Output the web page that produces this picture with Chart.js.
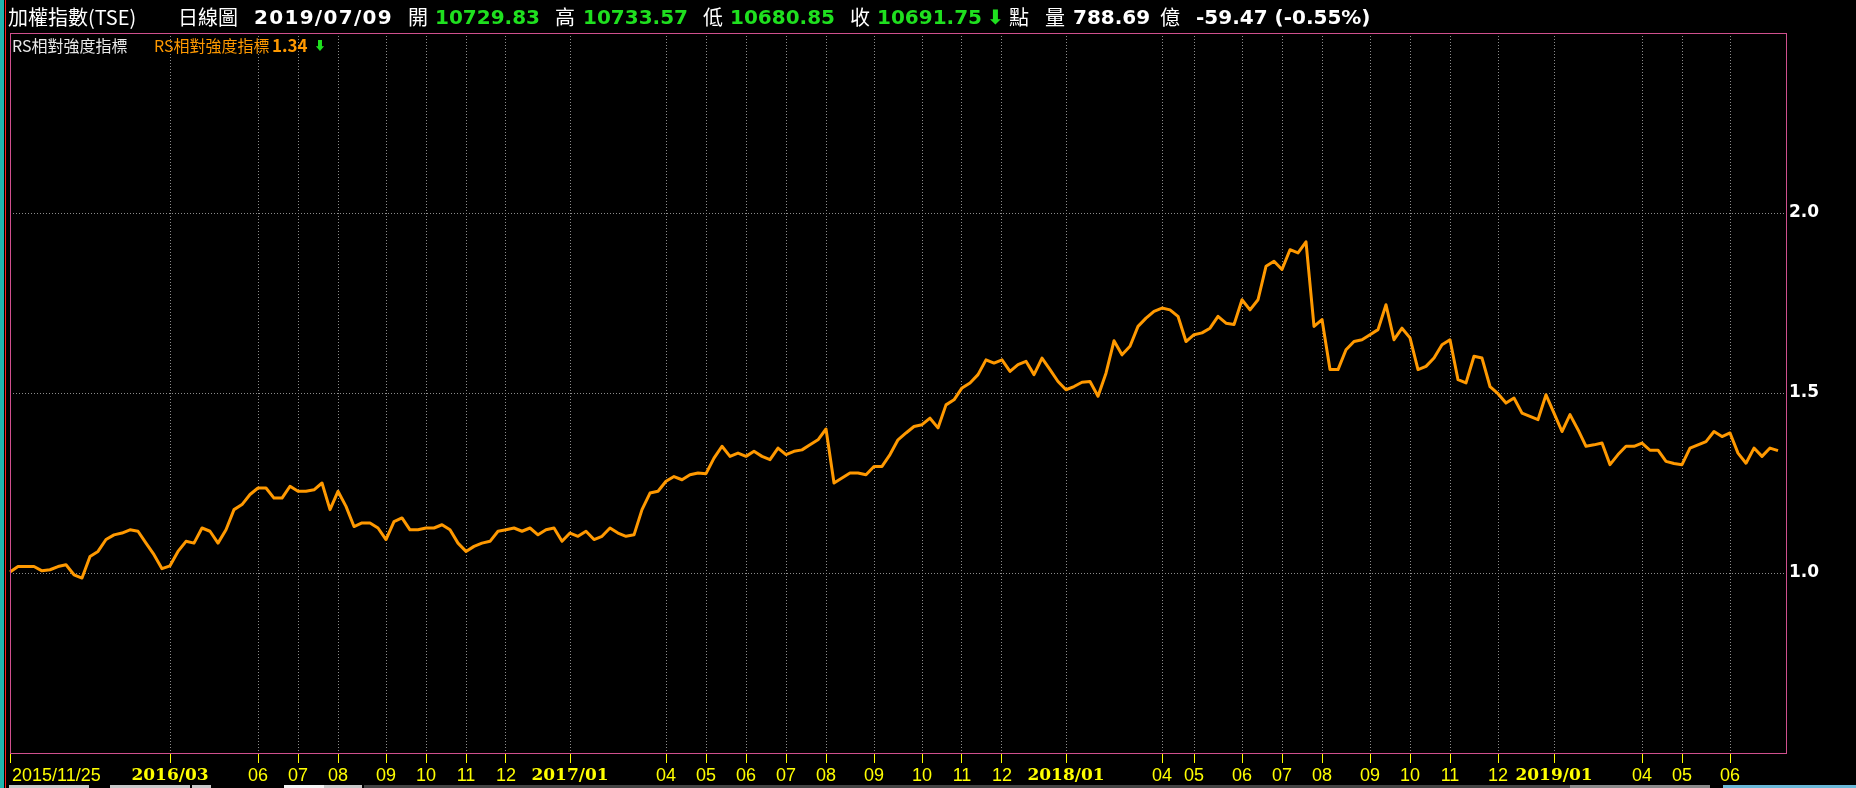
<!DOCTYPE html>
<html>
<head>
<meta charset="utf-8">
<script src="https://cdn.jsdelivr.net/npm/chart.js@4.4.1/dist/chart.umd.min.js"></script>
<style>
  html, body { margin: 0; padding: 0; background: #000; }
  body { width: 1856px; height: 788px; position: relative; overflow: hidden; }
  #chart { position: absolute; left: 0; top: 0; }
  .t { position: absolute; white-space: nowrap; color: #fff; }
  .hd { top: 4px; height: 26px; line-height: 26px; font-size: 20px; font-family: "Noto Sans CJK TC", sans-serif; }
  .num { font-family: "DejaVu Sans", sans-serif; font-weight: bold; }
  .green { color: #1fe01f; }
  .lg { top: 36px; height: 18px; line-height: 18px; font-size: 16px; font-family: "Noto Sans CJK TC", sans-serif; }
  .bar { position: absolute; }
</style>
</head>
<body>
<canvas id="chart" width="1856" height="788"></canvas>

<!-- header line -->
<span class="t hd" style="left:8px">加權指數(TSE)</span>
<span class="t hd" style="left:178px">日線圖</span>
<span class="t hd num" style="left:254px; letter-spacing:1.3px">2019/07/09</span>
<span class="t hd" style="left:408px">開</span>
<span class="t hd num green" style="left:435px">10729.83</span>
<span class="t hd" style="left:555px">高</span>
<span class="t hd num green" style="left:583px">10733.57</span>
<span class="t hd" style="left:703px">低</span>
<span class="t hd num green" style="left:730px">10680.85</span>
<span class="t hd" style="left:850px">收</span>
<span class="t hd num green" style="left:877px">10691.75</span>
<span class="t hd num green" style="left:987px">⬇</span>
<span class="t hd" style="left:1009px">點</span>
<span class="t hd" style="left:1045px">量</span>
<span class="t hd num" style="left:1073px">788.69</span>
<span class="t hd" style="left:1160px">億</span>
<span class="t hd num" style="left:1196px">-59.47 (-0.55%)</span>

<!-- indicator legend -->
<span class="t lg" style="left:12px; color:#e8e8e8">RS相對強度指標</span>
<span class="t lg" style="left:154px; color:#ff9900">RS相對強度指標</span>
<span class="t lg num" style="left:272px; color:#ff9900; font-size:17px">1.34</span>
<span class="t lg num green" style="left:314px; font-size:12px">⬇</span>

<!-- window edges -->
<div class="bar" style="left:0; top:0; width:4px; height:788px; background:#1fb5b0"></div>
<div class="bar" style="left:5px; top:0; width:1px; height:788px; background:#ff2020"></div>
<div class="bar" style="left:9px; top:785px; width:80px; height:3px; background:#c8c8c8"></div>
<div class="bar" style="left:110px; top:785px; width:80px; height:3px; background:#c8c8c8"></div>
<div class="bar" style="left:192px; top:785px; width:19px; height:3px; background:#c8c8c8"></div>
<div class="bar" style="left:284px; top:785px; width:40px; height:3px; background:#f4f4f4"></div>
<div class="bar" style="left:324px; top:785px; width:38px; height:3px; background:#c8c8c8"></div>
<div class="bar" style="left:364px; top:785px; width:1206px; height:3px; background:#444"></div>
<div class="bar" style="left:1570px; top:785px; width:140px; height:3px; background:#8a8a8a"></div>
<div class="bar" style="left:1723px; top:785px; width:133px; height:3px; background:#6ab8d8"></div>

<script>
// RS 相對強度指標, one sample every 4 trading days from 2015/11/25 to 2019/07/09
const rsValues = [
  1.003, 1.018, 1.018, 1.018, 1.006, 1.009, 1.018, 1.023, 0.995, 0.986,
  1.046, 1.060, 1.093, 1.106, 1.111, 1.120, 1.116, 1.083, 1.051, 1.012,
  1.020, 1.060, 1.088, 1.083, 1.125, 1.116, 1.083, 1.120, 1.176, 1.190,
  1.218, 1.236, 1.236, 1.208, 1.208, 1.241, 1.227, 1.227, 1.231, 1.250,
  1.176, 1.227, 1.185, 1.129, 1.139, 1.139,
  1.125, 1.093, 1.143, 1.153, 1.120, 1.120, 1.125, 1.125, 1.134, 1.120,
  1.083, 1.060, 1.074, 1.083, 1.088, 1.116, 1.120, 1.125, 1.116, 1.125,
  1.106, 1.120, 1.125, 1.088, 1.111, 1.102, 1.116, 1.093, 1.102, 1.125,
  1.111, 1.102, 1.106, 1.176, 1.222, 1.227, 1.255, 1.268, 1.259, 1.273,
  1.278, 1.276, 1.319, 1.352,
  1.324, 1.333, 1.324, 1.338, 1.324, 1.315, 1.347, 1.329, 1.338, 1.342,
  1.356, 1.370, 1.400, 1.250, 1.264, 1.278, 1.278, 1.273, 1.296, 1.296,
  1.329, 1.370, 1.389, 1.407, 1.412, 1.430, 1.403, 1.467, 1.481, 1.514,
  1.528, 1.551, 1.592, 1.583, 1.592, 1.560, 1.579, 1.588, 1.551, 1.597,
  1.565, 1.532, 1.509, 1.518, 1.530,
  1.532, 1.491, 1.555, 1.645, 1.606, 1.630, 1.685, 1.708, 1.727, 1.736,
  1.731, 1.713, 1.643, 1.662, 1.667, 1.680, 1.713, 1.694, 1.690, 1.759,
  1.731, 1.759, 1.852, 1.866, 1.843, 1.898, 1.889, 1.920, 1.685, 1.704,
  1.565, 1.565, 1.620, 1.643, 1.648, 1.662, 1.676, 1.745, 1.648, 1.680,
  1.653, 1.565, 1.574,
  1.597, 1.634, 1.648, 1.537, 1.528, 1.602, 1.597, 1.518, 1.498, 1.472,
  1.486, 1.444, 1.435, 1.426, 1.495, 1.444, 1.393, 1.440, 1.398, 1.352,
  1.356, 1.361, 1.301, 1.329, 1.352, 1.352, 1.361, 1.341, 1.341, 1.310,
  1.304, 1.301, 1.347, 1.356, 1.365, 1.393, 1.379, 1.389, 1.333, 1.305,
  1.347, 1.324, 1.347, 1.340
];

// month ticks along the bottom (sample index where each month starts)
const tickLabels = ['2015/11/25', '2016/03', '06', '07', '08', '09', '10', '11', '12',
  '2017/01', '04', '05', '06', '07', '08', '09', '10', '11', '12',
  '2018/01', '04', '05', '06', '07', '08', '09', '10', '11', '12',
  '2019/01', '04', '05', '06'];
const tickIndex = [0, 20, 31, 36, 41, 47, 52, 57, 62,
  70, 82, 87, 92, 97, 102, 108, 114, 119, 124,
  132, 144, 148, 154, 159, 164, 170, 175, 180, 186,
  193, 204, 209, 215];

const yTicks = [1.0, 1.5, 2.0];

// one extra empty slot so the plot runs a little past the last close
const labels = Array.from({ length: rsValues.length + 1 }, (_, i) => i);
const lastSlot = labels.length - 1;

const gridGray = '#8c8c8c';

// pink frame round the plot and the yellow month labels
const framePlugin = {
  id: 'frame',
  afterDraw(chart) {
    const { ctx, chartArea: a } = chart;
    const xs = chart.scales.x;
    ctx.save();
    ctx.strokeStyle = '#d0508e';
    ctx.lineWidth = 1;
    ctx.strokeRect(a.left + 0.5, a.top + 0.5, a.right - a.left, a.bottom - a.top);

    ctx.fillStyle = '#ffff00';
    ctx.textBaseline = 'middle';
    tickLabels.forEach((label, k) => {
      const isYear = label.length === 7;
      ctx.font = isYear ? 'bold 17px "DejaVu Serif"' : '18px "Liberation Sans"';
      ctx.textAlign = k === 0 ? 'left' : 'center';
      const px = xs.getPixelForValue(tickIndex[k]);
      ctx.fillText(label, k === 0 ? px + 2 : px, a.bottom + 23);
    });
    ctx.restore();
  }
};

new Chart(document.getElementById('chart'), {
  type: 'line',
  data: {
    labels,
    datasets: [{
      label: 'RS相對強度指標',
      data: rsValues,
      borderColor: '#ff9900',
      borderWidth: 3,
      borderJoinStyle: 'round',
      pointRadius: 0,
      tension: 0,
      fill: false
    }]
  },
  options: {
    responsive: false,
    animation: false,
    devicePixelRatio: 1,
    layout: { padding: { top: 33, left: 10, right: 0, bottom: 0 } },
    plugins: { legend: { display: false }, tooltip: { enabled: false } },
    scales: {
      x: {
        type: 'category',
        afterBuildTicks: s => { s.ticks = tickIndex.concat([lastSlot]).map(v => ({ value: v })); },
        afterFit: s => { s.height = 35; },
        grid: {
          color: c => (c.tick && c.tick.value === lastSlot) ? 'rgba(0,0,0,0)' : gridGray,
          tickColor: c => (c.tick && c.tick.value === lastSlot) ? 'rgba(0,0,0,0)' : '#ffff00',
          tickLength: 10,
          tickWidth: 1,
          tickBorderDash: []
        },
        border: { display: false, dash: [1, 2] },
        ticks: { display: false }
      },
      y: {
        position: 'right',
        min: 0.5,
        max: 2.5,
        afterBuildTicks: s => { s.ticks = yTicks.map(v => ({ value: v })); },
        afterFit: s => { s.width = 70; },
        grid: { color: gridGray, drawTicks: false },
        border: { display: false, dash: [1, 2] },
        ticks: {
          color: '#ffffff',
          padding: 3,
          font: { family: 'DejaVu Sans', weight: 'bold', size: 17 },
          callback: v => v.toFixed(1)
        }
      }
    }
  },
  plugins: [framePlugin]
});
</script>
</body>
</html>
